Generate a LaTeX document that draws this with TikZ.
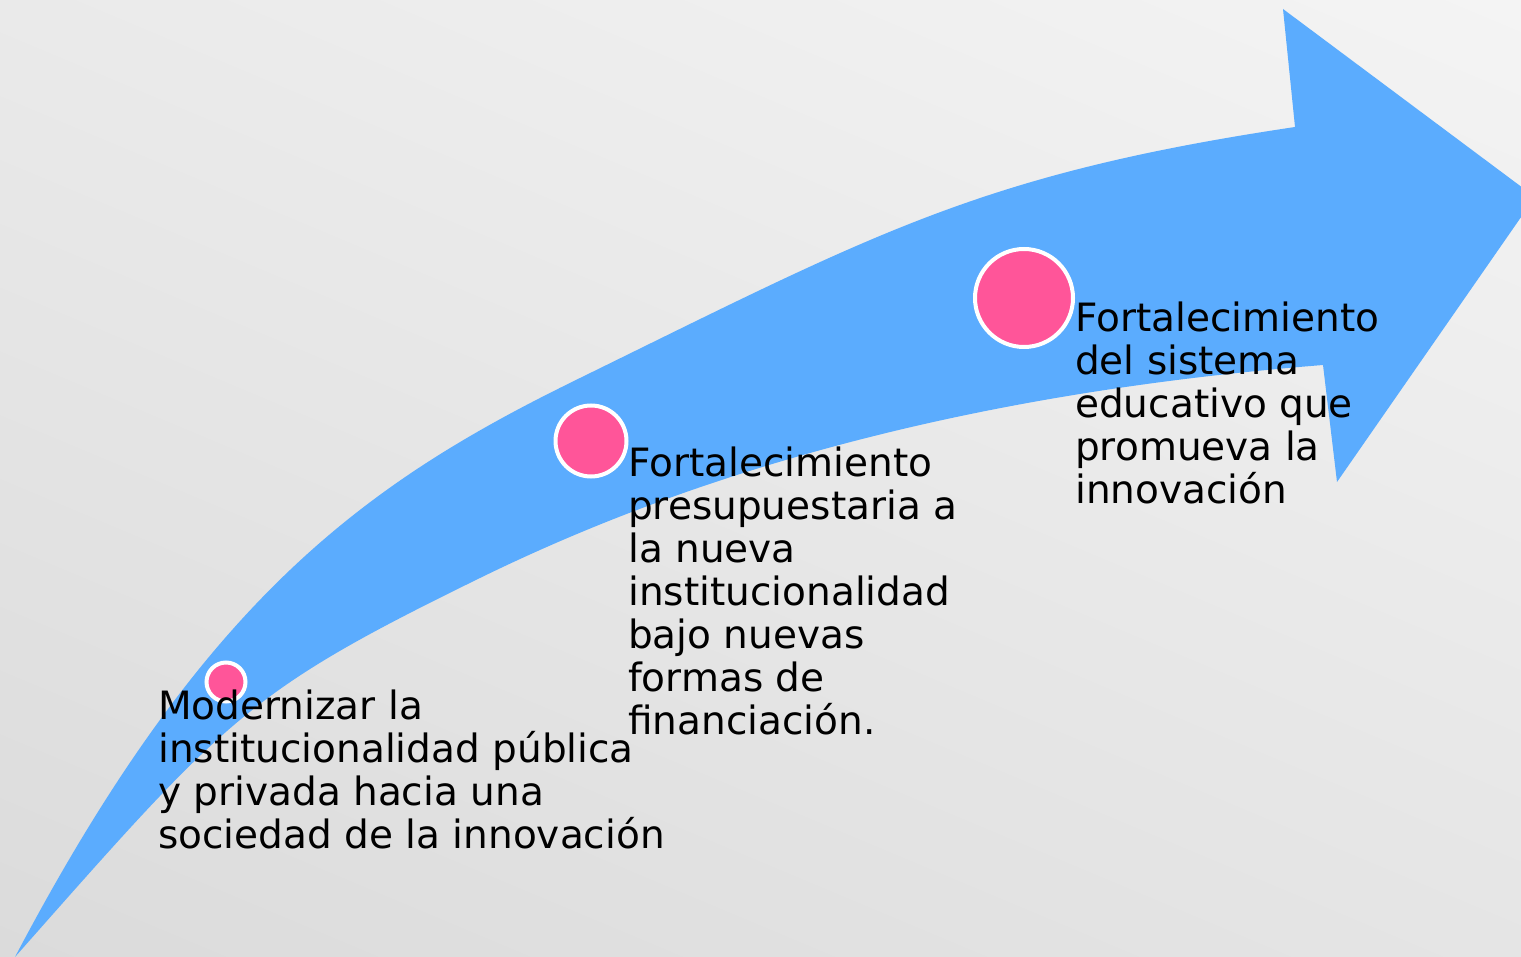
\documentclass[tikz,border=0pt]{standalone}
\usepackage{fontspec}
\usetikzlibrary{shadings}
\setmainfont{DejaVu Sans}
\definecolor{arrowblue}{HTML}{5BACFE}
\definecolor{dotpink}{HTML}{FF5599}
\definecolor{bgll}{HTML}{DBDBDB}
\definecolor{bgul}{HTML}{EAEAEA}
\definecolor{bgur}{HTML}{F4F4F4}
\definecolor{bglr}{HTML}{E5E5E5}
\tikzset{
  dot/.style={circle, fill=dotpink, draw=white, line width=4pt, inner sep=0pt},
  label/.style={anchor=north west, inner sep=0pt, align=left, text=black,
    font=\fontsize{39}{43}\selectfont}
}
\begin{document}
\begin{tikzpicture}[x=1pt,y=-1pt]
\useasboundingbox (0,0) rectangle (1521,957);
\clip (0,0) rectangle (1521,957);
\shade[lower left=bgll, upper left=bgul, upper right=bgur, lower right=bglr] (0,957) rectangle (1521,0);
\fill[arrowblue] (15,957)
  .. controls (206,594) and (369,481) .. (580,378)
  .. controls (875,233.5) and (980,174) .. (1295,127)
  -- (1283,9) -- (1535,197) -- (1337,482) -- (1323,365)
  .. controls (998,391) and (721,460) .. (480,578)
  .. controls (247,692) and (228,716) .. (15,957) -- cycle;
\node[dot, minimum size=39pt] (c1) at (226,682) {};
\node[dot, minimum size=71pt] (c2) at (591,441) {};
\node[dot, minimum size=98pt] (c3) at (1024,298) {};
\node[label] (t1) at (158,690) {Modernizar la\\institucionalidad pública\\y privada hacia una\\sociedad de la innovación};
\node[label] (t2) at (628,447) {Fortalecimiento\\presupuestaria a\\la nueva\\institucionalidad\\bajo nuevas\\formas de\\financiación.};
\node[label] (t3) at (1075,302) {Fortalecimiento\\del sistema\\educativo que\\promueva la\\innovación};
\end{tikzpicture}
\end{document}
